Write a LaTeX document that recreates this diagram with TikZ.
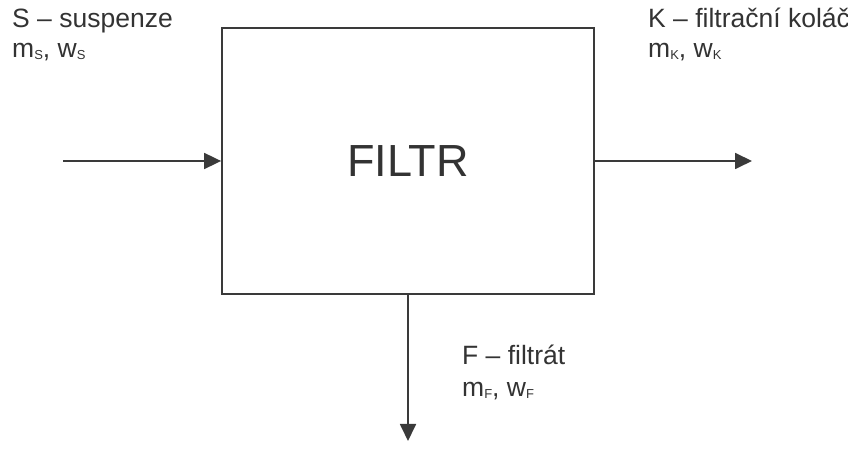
\documentclass[tikz,border=0pt]{standalone}
\usepackage{fontspec}
\setmainfont{Liberation Sans}
\usetikzlibrary{arrows.meta}
\definecolor{txt}{HTML}{333333}
\definecolor{ln}{HTML}{3A3A3A}
\newcommand{\sbs}[1]{\raisebox{-2pt}{\fontsize{13}{13}\selectfont #1}}
\begin{document}
\begin{tikzpicture}[x=1pt,y=1pt,
  lbl/.style={anchor=base west,inner sep=0pt,text=txt,font=\fontsize{26.5}{30}\selectfont},
  flow/.style={draw=ln,line width=1.8pt,-{Triangle[length=17pt,width=16pt]}},
  boxst/.style={draw=ln,line width=1.8pt,minimum width=372pt,minimum height=266pt,inner sep=0pt}]
\useasboundingbox[fill=white] (0,0) rectangle (848,454);
\node[boxst,text=txt,font=\fontsize{45}{50}\selectfont] (filtr) at (408,293) {FILTR};
\coordinate (in) at (63,293);
\coordinate (out) at (752,293);
\coordinate (down) at (408,13);
\draw[flow] (in) -- (filtr.west);
\draw[flow] (filtr.east) -- (out);
\draw[flow] (filtr.south) -- (down);
\node[lbl] (s1) at (12,426) {S -- suspenze};
\node[lbl] (s2) at (12,396) {m\sbs{S}, w\sbs{S}};
\node[lbl] (k1) at (648,426) {K -- filtrační koláč};
\node[lbl] (k2) at (648,396) {m\sbs{K}, w\sbs{K}};
\node[lbl] (f1) at (462,89) {F -- filtrát};
\node[lbl] (f2) at (462,57) {m\sbs{F}, w\sbs{F}};
\end{tikzpicture}
\end{document}
